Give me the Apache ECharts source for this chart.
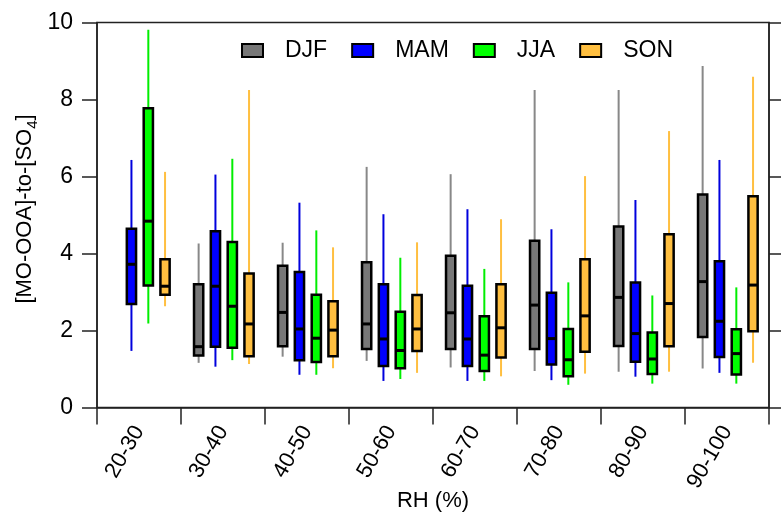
<!DOCTYPE html>
<html>
<head>
<meta charset="utf-8">
<title>[MO-OOA]-to-[SO4] by RH and season</title>
<script src="https://cdn.jsdelivr.net/npm/echarts@6/dist/echarts.min.js"></script>
<style>
  html, body { margin: 0; padding: 0; background: #fff; }
  #chart { width: 781px; height: 520px; }
</style>
</head>
<body>
<div id="chart"></div>
<script>
// RH bins on the x axis
const rhBins = ['20-30', '30-40', '40-50', '50-60', '60-70', '70-80', '80-90', '90-100'];
const seasons = ['DJF', 'MAM', 'JJA', 'SON'];
const yTicks = [0, 2, 4, 6, 8, 10];

// Five-number summaries per bin: [low whisker, Q1, median, Q3, high whisker]
const djf = [
  null,
  [1.16, 1.35, 1.58, 3.20, 4.26],
  [1.32, 1.59, 2.47, 3.68, 4.28],
  [1.21, 1.52, 2.17, 3.77, 6.25],
  [1.04, 1.52, 2.46, 3.94, 6.06],
  [0.95, 1.52, 2.66, 4.33, 8.25],
  [0.93, 1.60, 2.86, 4.70, 8.25],
  [1.01, 1.83, 3.27, 5.53, 8.87]
];
const mam = [
  [1.47, 2.69, 3.72, 4.64, 6.43],
  [1.06, 1.58, 3.15, 4.58, 6.05],
  [0.85, 1.23, 2.04, 3.52, 5.32],
  [0.69, 1.08, 1.78, 3.20, 5.02],
  [0.69, 1.08, 1.78, 3.16, 5.15],
  [0.71, 1.12, 1.79, 2.98, 4.63],
  [0.80, 1.19, 1.92, 3.25, 5.39],
  [0.90, 1.31, 2.24, 3.80, 6.43]
];
const jja = [
  [2.18, 3.17, 4.84, 7.77, 9.81],
  [1.23, 1.55, 2.63, 4.30, 6.46],
  [0.85, 1.18, 1.80, 2.93, 4.60],
  [0.74, 1.02, 1.48, 2.49, 3.89],
  [0.69, 0.95, 1.36, 2.37, 3.60],
  [0.59, 0.81, 1.24, 2.04, 3.25],
  [0.62, 0.87, 1.26, 1.95, 2.91],
  [0.62, 0.86, 1.40, 2.03, 3.12]
];
const son = [
  [2.63, 2.93, 3.15, 3.85, 6.12],
  [1.13, 1.33, 2.17, 3.48, 8.25],
  [1.02, 1.33, 2.01, 2.76, 4.16],
  [0.90, 1.47, 2.04, 2.92, 4.29],
  [0.81, 1.30, 2.07, 3.20, 4.89],
  [0.88, 1.45, 2.38, 3.85, 6.01],
  [0.93, 1.59, 2.70, 4.50, 7.18],
  [1.16, 1.98, 3.18, 5.49, 8.59]
];

const seasonStats = [djf, mam, jja, son];
const boxFill = ['#777777', '#0000ff', '#00ff00', '#ffbf40'];
const whiskerColor = ['#888888', '#0000dd', '#00ee00', '#ffbf40'];
// horizontal offset of each season's box inside a bin, as a fraction of the bin width
const boxOffset = [-0.290, -0.090, 0.111, 0.310];
const boxWidthFrac = 0.11;

const FONT = "'Liberation Sans', Arial, sans-serif";
const AXIS_COLOR = '#222';

function toRows(stats) {
  const rows = [];
  stats.forEach((s, i) => {
    if (s) rows.push([i, s[0], s[1], s[2], s[3], s[4]]);
  });
  return rows;
}

function makeRender(k) {
  return function (params, api) {
    const idx = api.value(0);
    const band = api.size([1, 0])[0];
    const cx = api.coord([idx, 0])[0] + band * boxOffset[k];
    const w = band * boxWidthFrac;
    const yLo = api.coord([idx, api.value(1)])[1];
    const yQ1 = api.coord([idx, api.value(2)])[1];
    const yMed = api.coord([idx, api.value(3)])[1];
    const yQ3 = api.coord([idx, api.value(4)])[1];
    const yHi = api.coord([idx, api.value(5)])[1];
    return {
      type: 'group',
      children: [
        {
          type: 'line',
          shape: { x1: cx, y1: yHi, x2: cx, y2: yLo },
          style: { stroke: whiskerColor[k], lineWidth: 2 }
        },
        {
          type: 'rect',
          shape: { x: cx - w / 2, y: yQ3, width: w, height: yQ1 - yQ3 },
          style: { fill: boxFill[k], stroke: '#000', lineWidth: 2.5 }
        },
        {
          type: 'line',
          shape: { x1: cx - w / 2, y1: yMed, x2: cx + w / 2, y2: yMed },
          style: { stroke: '#000', lineWidth: 3 }
        }
      ]
    };
  };
}

const chart = echarts.init(document.getElementById('chart'), null, { renderer: 'canvas' });

const option = {
  animation: false,
  backgroundColor: '#ffffff',
  textStyle: { fontFamily: FONT },
  grid: {
    left: 97, right: 12, top: 22.5, bottom: 112.5,
    outerBoundsMode: 'none',
    containLabel: false,
    show: true, borderColor: AXIS_COLOR, borderWidth: 1.5, backgroundColor: 'transparent'
  },
  legend: {
    data: seasons.map((s) => ({ name: s, icon: 'rect' })),
    left: 241, top: 39, padding: 0,
    itemWidth: 21, itemHeight: 13, itemGap: 24,
    itemStyle: { borderColor: '#000', borderWidth: 2 },
    textStyle: { fontSize: 23, color: '#000', fontFamily: FONT, padding: [0, 0, 0, 17] }
  },
  xAxis: [{
    type: 'category',
    data: rhBins,
    boundaryGap: true,
    axisLine: { show: true, lineStyle: { color: AXIS_COLOR, width: 1.5 } },
    axisTick: { show: true, inside: false, length: 17, lineStyle: { color: AXIS_COLOR, width: 1.5 } },
    axisLabel: { rotate: 60, fontSize: 22, color: '#000', margin: 20, fontFamily: FONT },
    splitLine: { show: false },
    name: 'RH (%)',
    nameLocation: 'middle',
    nameGap: 82,
    nameMoveOverlap: false,
    nameTextStyle: { fontSize: 22, color: '#000', fontFamily: FONT }
  }],
  yAxis: [{
    type: 'value',
    min: yTicks[0], max: yTicks[yTicks.length - 1], interval: 2,
    axisLine: { show: true, lineStyle: { color: AXIS_COLOR, width: 1.5 } },
    axisTick: { show: true, inside: false, length: 15, lineStyle: { color: AXIS_COLOR, width: 1.5 } },
    axisLabel: { fontSize: 23, color: '#000', margin: 24, fontFamily: FONT },
    splitLine: { show: false },
    name: '[MO-OOA]-to-[SO{sub|4}]',
    nameLocation: 'middle',
    nameRotate: 90,
    nameGap: 57,
    nameMoveOverlap: false,
    nameTextStyle: {
      fontSize: 22, color: '#000', fontFamily: FONT,
      lineHeight: 30, padding: [0, 0, 0, 12],
      rich: {
        sub: { fontSize: 15, fontFamily: FONT, color: '#000', verticalAlign: 'bottom', lineHeight: 30 }
      }
    }
  }, {
    type: 'value',
    position: 'right',
    min: yTicks[0], max: yTicks[yTicks.length - 1], interval: 2,
    axisLine: { show: true, lineStyle: { color: AXIS_COLOR, width: 1.5 } },
    axisTick: { show: true, inside: false, length: 12, lineStyle: { color: AXIS_COLOR, width: 1.5 } },
    axisLabel: { show: false },
    splitLine: { show: false }
  }],
  series: seasons.map((s, k) => ({
    name: s,
    type: 'custom',
    xAxisIndex: 0,
    yAxisIndex: 0,
    itemStyle: { color: boxFill[k] },
    encode: { x: 0, y: [1, 2, 3, 4, 5] },
    renderItem: makeRender(k),
    data: toRows(seasonStats[k])
  }))
};

chart.setOption(option);
</script>
</body>
</html>
